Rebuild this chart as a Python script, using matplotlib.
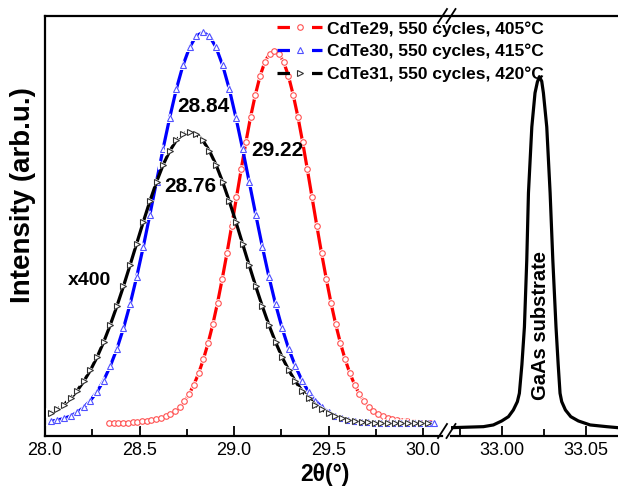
import numpy as np
import matplotlib
matplotlib.use("Agg")
import matplotlib.pyplot as plt
from matplotlib.lines import Line2D
from matplotlib.ticker import MultipleLocator, FormatStrFormatter

plt.rcParams['font.family'] = ['Liberation Sans', 'DejaVu Sans']

# ---- data ----
# CdTe29, 550 cycles, 405C  (red)
x29 = np.linspace(28.338, 30.038, 69)
y29 = [0.001, 0.002, 0.002, 0.003, 0.003, 0.004, 0.005, 0.006, 0.007, 0.009,
       0.011, 0.014, 0.018, 0.023, 0.031, 0.041, 0.055, 0.073, 0.096, 0.124,
       0.158, 0.198, 0.244, 0.297, 0.356, 0.419, 0.486, 0.555, 0.624, 0.691,
       0.753, 0.807, 0.853, 0.887, 0.908, 0.915,
       0.908, 0.887, 0.853, 0.807, 0.753, 0.691, 0.624, 0.555, 0.486, 0.419,
       0.356, 0.297, 0.244, 0.198, 0.158, 0.124, 0.096, 0.073, 0.055, 0.041,
       0.031, 0.023, 0.018, 0.014, 0.011, 0.009, 0.007, 0.006, 0.005, 0.004,
       0.003, 0.003, 0.002]

# CdTe30, 550 cycles, 415C  (blue)
x30 = np.linspace(28.03, 30.06, 59)
y30 = [0.006, 0.009, 0.013, 0.019, 0.028, 0.040, 0.057, 0.078, 0.106, 0.141,
       0.183, 0.234, 0.293, 0.360, 0.434, 0.513, 0.594, 0.675, 0.751, 0.821,
       0.879, 0.923, 0.951, 0.960,
       0.951, 0.923, 0.879, 0.821, 0.751, 0.675, 0.594, 0.513, 0.434, 0.360,
       0.293, 0.234, 0.183, 0.141, 0.106, 0.078, 0.057, 0.040, 0.028, 0.019,
       0.013, 0.009, 0.006, 0.005, 0.004, 0.003, 0.003, 0.002, 0.002, 0.002,
       0.002, 0.002, 0.002, 0.002, 0.002]

# CdTe31, 550 cycles, 420C  (black)
x31 = np.linspace(28.03, 30.025, 58)
y31 = [0.026, 0.035, 0.047, 0.062, 0.081, 0.104, 0.131, 0.163, 0.200, 0.242,
       0.288, 0.337, 0.389, 0.442, 0.495, 0.546, 0.593, 0.635, 0.669, 0.695,
       0.711, 0.716,
       0.711, 0.695, 0.669, 0.635, 0.593, 0.546, 0.495, 0.442, 0.389, 0.337,
       0.288, 0.242, 0.200, 0.163, 0.131, 0.104, 0.081, 0.062, 0.047, 0.035,
       0.026, 0.019, 0.013, 0.009, 0.007, 0.005, 0.004, 0.003, 0.003, 0.002,
       0.002, 0.002, 0.002, 0.002, 0.002, 0.002]

# GaAs substrate peak
xg = [32.9696, 32.9889, 32.9948, 32.9998, 33.0038, 33.0067, 33.0091, 33.0103,
      33.0118, 33.0133, 33.0147, 33.0157, 33.0177, 33.0196, 33.0210, 33.0222,
      33.0236, 33.0246, 33.0266, 33.0286, 33.0302, 33.0321, 33.0334, 33.0345,
      33.0355, 33.0377, 33.0409, 33.0454, 33.0524, 33.0623, 33.0690]
yg = [-0.0096, -0.0071, -0.0029, 0.0069, 0.0174, 0.0338, 0.0542, 0.0748,
      0.1450, 0.2374, 0.4017, 0.5660, 0.7278, 0.8112, 0.8380, 0.8512,
      0.8400, 0.8112, 0.7278, 0.5660, 0.4017, 0.2374, 0.1450, 0.0748,
      0.0542, 0.0338, 0.0174, 0.0069, -0.0029, -0.0071, -0.0096]

labels = ['CdTe29, 550 cycles, 405°C', 'CdTe30, 550 cycles, 415°C',
          'CdTe31, 550 cycles, 420°C']
peak_labels = ['29.22', '28.84', '28.76']

# ---- figure ----
W, H = 618, 487
fig = plt.figure(figsize=(W / 100, H / 100), dpi=100)


def box(x0, y0, x1, y1):
    return [x0 / W, 1 - y1 / H, (x1 - x0) / W, (y1 - y0) / H]


axL = fig.add_axes(box(45, 16, 442, 436))
axR = fig.add_axes(box(451, 16, 618, 436))

series = [(x29, y29, 'red', 'o', '#ff5050', 4.0),
          (x30, y30, 'blue', '^', '#5050ff', 4.6),
          (x31, y31, 'black', '>', '#303030', 4.6)]

lw = 2.3
handles = []
for i, (x, y, c, mk, ec, ms) in enumerate(series):
    z = 2 + i
    axL.plot(x, y, color=c, lw=lw, zorder=z)
    axL.plot(x, y, ls='none', marker=mk, ms=ms + 2.2, mfc='white',
             mec='white', mew=0, zorder=z + 0.1)
    axL.plot(x, y, ls='none', marker=mk, ms=ms, mfc='white', mec=ec,
             mew=0.8, zorder=z + 0.2)
    handles.append(Line2D([], [], color=c, lw=lw, dashes=(3.9, 6.9),
                          marker=mk, ms=ms, mfc='white', mec=ec, mew=0.8))

axR.plot(xg, yg, color='black', lw=2.3)

for ax in (axL, axR):
    ax.set_ylim(-0.03, 1.0)
    ax.set_yticks([])
    for s in ('top', 'right', 'left'):
        ax.spines[s].set_visible(False)
    ax.spines['bottom'].set_linewidth(1.6)
    ax.tick_params(axis='x', which='both', direction='in', width=1.3,
                   labelsize=13, pad=4)
    ax.tick_params(axis='x', which='major', length=7)
    ax.tick_params(axis='x', which='minor', length=5)
    ax.patch.set_visible(False)
axL.spines['left'].set_visible(True)
axL.spines['left'].set_linewidth(1.6)

axL.set_xlim(28.0, 30.1005)
axL.xaxis.set_major_locator(MultipleLocator(0.5))
axL.xaxis.set_minor_locator(MultipleLocator(0.25))
axL.xaxis.set_major_formatter(FormatStrFormatter('%.1f'))

axR.set_xlim(32.9696, 33.069)
axR.xaxis.set_major_locator(MultipleLocator(0.05))
axR.xaxis.set_minor_locator(MultipleLocator(0.025))
axR.xaxis.set_major_formatter(FormatStrFormatter('%.2f'))

# top frame line across both panels
fig.add_artist(Line2D([45 / W, 1.0], [1 - 16 / H, 1 - 16 / H],
                      color='black', lw=1.6))

# axis break marks
for yb in (16, 431):
    for dx in (0, 8.5):
        fig.add_artist(Line2D([(438 + dx) / W, (447 + dx) / W],
                              [1 - (yb + 7) / H, 1 - (yb - 7) / H],
                              color='black', lw=1.3))

# peak labels
txt = dict(fontsize=15, fontweight='bold', ha='center', va='center')
axL.text(29.228, 0.669, peak_labels[0], **txt)
axL.text(28.84, 0.777, peak_labels[1], **txt)
axL.text(28.767, 0.581, peak_labels[2], **txt)
axL.text(28.238, 0.352, 'x400', fontsize=14, fontweight='bold',
         ha='center', va='center')
axR.text(33.0226, 0.242, 'GaAs substrate', fontsize=14.5, fontweight='bold',
         rotation=90, ha='center', va='center')

fig.text(23 / W, 1 - 195 / H, 'Intensity (arb.u.)', fontsize=20,
         fontweight='bold', rotation=90, ha='center', va='center')
fig.text(325 / W, 1 - 474 / H, '2θ(°)', fontsize=16.5, fontweight='bold',
         ha='center', va='center')

fig.legend(handles, labels, loc='upper left',
           bbox_to_anchor=(277 / W, 1 - 21 / H), frameon=False,
           prop={'size': 12.5, 'weight': 'bold'}, handlelength=2.6,
           handletextpad=0.3, labelspacing=0.42, borderpad=0,
           borderaxespad=0, numpoints=1)

fig.savefig('out.png', dpi=100)
